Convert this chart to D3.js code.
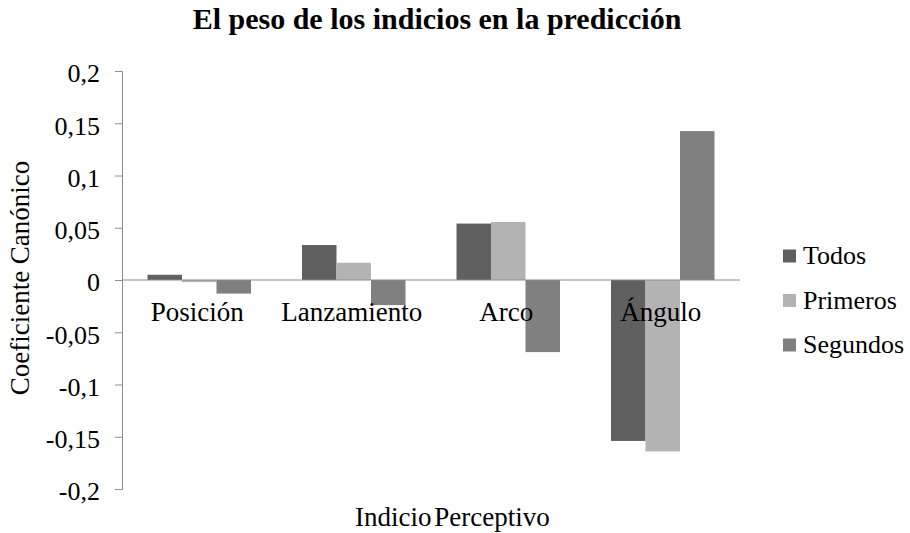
<!DOCTYPE html>
<html>
<head>
<meta charset="utf-8">
<script src="https://cdn.jsdelivr.net/npm/d3@7"></script>
</head>
<body style="margin:0">
<svg id="chart" width="910" height="533" style="display:block"></svg>
<script>
// data
const categories = ["Posición", "Lanzamiento", "Arco", "Ángulo"];
const seriesNames = ["Todos", "Primeros", "Segundos"];
const todos    = [0.005, 0.0335, 0.054, -0.154];
const primeros = [-0.002, 0.0165, 0.0555, -0.164];
const segundos = [-0.013, -0.024, -0.069, 0.1425];
const yTicks = [-0.2, -0.15, -0.1, -0.05, 0, 0.05, 0.1, 0.15, 0.2];

const seriesValues = [todos, primeros, segundos];
const colors = ["#606060", "#b3b3b3", "#808080"];
const FONT = "Times New Roman";

const plot = { left: 122, right: 740, top: 71, bottom: 489 };

const svg = d3.select("#chart");

// scales
const x0 = d3.scaleBand()
    .domain(categories)
    .range([plot.left, plot.right])
    .paddingInner(0.33)
    .paddingOuter(0.165);

const x1 = d3.scaleBand()
    .domain(seriesNames)
    .range([0, x0.bandwidth()]);

const y = d3.scaleLinear()
    .domain([-0.2, 0.2])
    .range([plot.bottom, plot.top]);

const fmt = v => (v === 0 ? "0" : String(+v.toFixed(2)).replace(".", ","));

// y axis
const yAxis = svg.append("g")
    .attr("transform", `translate(${plot.left},0)`)
    .call(d3.axisLeft(y).tickValues(yTicks).tickSize(7).tickPadding(15).tickFormat(fmt))
    .attr("font-family", FONT)
    .attr("font-size", 26);
yAxis.select(".domain").attr("stroke", "#8c8c8c");
yAxis.selectAll(".tick line").attr("stroke", "#8c8c8c");
yAxis.selectAll("text")
    .attr("fill", "#000")
    .attr("dy", "0.42em");

// bars
const groups = svg.append("g")
    .selectAll("g")
    .data(categories)
    .join("g")
    .attr("transform", d => `translate(${x0(d)},0)`);

groups.selectAll("rect")
    .data((c, i) => seriesNames.map((s, j) => ({ s, j, v: seriesValues[j][i] })))
    .join("rect")
    .attr("x", d => x1(d.s))
    .attr("width", x1.bandwidth())
    .attr("y", d => y(Math.max(0, d.v)))
    .attr("height", d => Math.abs(y(d.v) - y(0)))
    .attr("fill", d => colors[d.j]);

// zero line
svg.append("line")
    .attr("x1", plot.left).attr("x2", plot.right)
    .attr("y1", y(0)).attr("y2", y(0))
    .attr("stroke", "#8c8c8c");

// category labels
svg.append("g")
    .attr("font-family", FONT)
    .attr("font-size", 27)
    .selectAll("text")
    .data(categories)
    .join("text")
    .attr("x", d => x0(d) + x0.bandwidth() / 2 - 2)
    .attr("y", y(0) + 41)
    .attr("text-anchor", "middle")
    .text(d => d);

// title
svg.append("text")
    .attr("x", 437)
    .attr("y", 29)
    .attr("text-anchor", "middle")
    .attr("font-family", FONT)
    .attr("font-size", 30)
    .attr("font-weight", "bold")
    .text("El peso de los indicios en la predicción");

// axis titles
svg.append("text")
    .attr("x", 355)
    .attr("y", 526)
    .attr("font-family", FONT)
    .attr("font-size", 27)
    .attr("word-spacing", -4)
    .text("Indicio Perceptivo");

svg.append("text")
    .attr("transform", `translate(29,278) rotate(-90)`)
    .attr("text-anchor", "middle")
    .attr("font-family", FONT)
    .attr("font-size", 27)
    .text("Coeficiente Canónico");

// legend
const legend = svg.append("g")
    .attr("font-family", FONT)
    .attr("font-size", 26)
    .selectAll("g")
    .data(seriesNames)
    .join("g")
    .attr("transform", (d, i) => `translate(783,${256 + i * 44.5})`);

legend.append("rect")
    .attr("x", 0).attr("y", -6.5)
    .attr("width", 13).attr("height", 13)
    .attr("fill", (d, i) => colors[i]);

legend.append("text")
    .attr("x", 20)
    .attr("y", 8)
    .text(d => d);
</script>
</body>
</html>
